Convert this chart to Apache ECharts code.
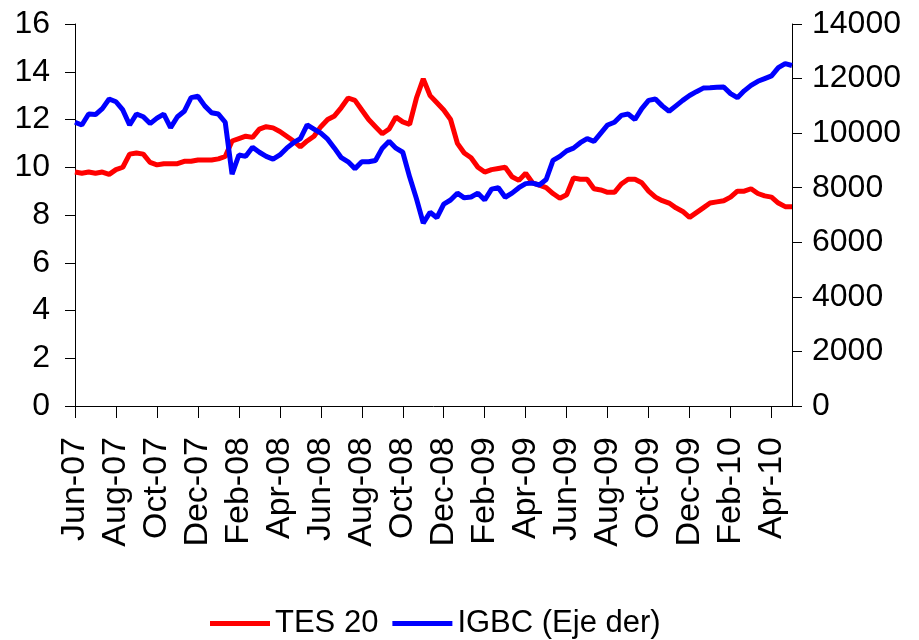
<!DOCTYPE html>
<html>
<head>
<meta charset="utf-8">
<script src="https://cdn.jsdelivr.net/npm/echarts@6/dist/echarts.min.js"></script>
<style>
    html, body { margin: 0; padding: 0; background: #fff; }
    #chart { width: 919px; height: 640px; }
</style>
</head>
<body>
<div id="chart"></div>
<script>
    // fechas: 1, 11 y 21 de cada mes, jun-07 a abr-10, mas el cierre 30-abr-10
    var monthNames = ['Jan', 'Feb', 'Mar', 'Apr', 'May', 'Jun', 'Jul', 'Aug', 'Sep', 'Oct', 'Nov', 'Dec'];
    var dayMarks = [1, 11, 21];
    var dates = [];
    for (var m = 5; m <= 5 + 34; m++) {
        var yy = 2007 + Math.floor(m / 12);
        for (var d = 0; d < dayMarks.length; d++) {
            dates.push(dayMarks[d] + '-' + monthNames[m % 12] + '-' + String(yy).slice(2));
        }
    }
    dates.push('30-Apr-10');

    var tes20 = [
        9.8, 9.75, 9.8, 9.75, 9.8, 9.7, 9.9, 10.0, 10.55, 10.6,
        10.55, 10.2, 10.1, 10.15, 10.15, 10.15, 10.25, 10.25, 10.3, 10.3,
        10.3, 10.35, 10.45, 11.1, 11.2, 11.3, 11.25, 11.6, 11.7, 11.65,
        11.5, 11.3, 11.1, 10.85, 11.1, 11.3, 11.7, 12.0, 12.15, 12.5,
        12.9, 12.8, 12.4, 12.0, 11.7, 11.4, 11.6, 12.1, 11.9, 11.8,
        12.9, 13.7, 13.0, 12.7, 12.4, 12.0, 11.0, 10.6, 10.4, 10.0,
        9.8, 9.9, 9.95, 10.0, 9.6, 9.45, 9.75, 9.35, 9.25, 9.15,
        8.9, 8.7, 8.85, 9.55, 9.5, 9.5, 9.1, 9.05, 8.95, 8.95,
        9.3, 9.5, 9.5, 9.35, 9.0, 8.75, 8.6, 8.5, 8.3, 8.15,
        7.9, 8.1, 8.3, 8.5, 8.55, 8.6, 8.75, 9.0, 9.0, 9.1,
        8.9, 8.8, 8.75, 8.5, 8.35, 8.35
    ];

    var igbc = [
        10400, 10300, 10700, 10680, 10900, 11250, 11150, 10850, 10300, 10700,
        10600, 10350, 10550, 10700, 10200, 10600, 10800, 11300, 11350, 11000,
        10750, 10700, 10400, 8500, 9200, 9150, 9480, 9300, 9150, 9050,
        9200, 9450, 9650, 9800, 10300, 10150, 10000, 9780, 9450, 9100,
        8950, 8700, 8950, 8950, 9000, 9450, 9700, 9450, 9300, 8400,
        7600, 6700, 7100, 6900, 7400, 7550, 7800, 7630, 7660, 7800,
        7550, 7950, 8000, 7650, 7800, 8000, 8150, 8170, 8100, 8300,
        9000, 9150, 9350, 9450, 9650, 9800, 9700, 10000, 10300, 10400,
        10650, 10700, 10500, 10900, 11200, 11250, 11000, 10800, 11000, 11200,
        11380, 11520, 11650, 11660, 11680, 11690, 11450, 11300, 11550, 11750,
        11900, 12000, 12100, 12400, 12550, 12480
    ];

    var chart = echarts.init(document.getElementById('chart'));

    var font = 'Liberation Sans, Arial, sans-serif';

    chart.setOption({
        animation: false,
        backgroundColor: '#fff',
        grid: {
            left: 75,
            right: 127,
            top: 24,
            bottom: 234,
            containLabel: false,
            outerBoundsMode: 'none'
        },
        legend: {
            left: 205,
            top: 603,
            icon: 'rect',
            itemWidth: 60,
            itemHeight: 5,
            itemGap: 14,
            textStyle: { fontFamily: font, fontSize: 31, color: '#000' },
            data: ['TES 20', 'IGBC (Eje der)']
        },
        xAxis: {
            type: 'category',
            data: dates,
            boundaryGap: false,
            axisLine: { lineStyle: { color: '#000', width: 1 } },
            axisTick: { interval: 5, length: 12, lineStyle: { color: '#000' } },
            axisLabel: {
                interval: 5,
                rotate: 90,
                margin: 31,
                fontFamily: font,
                fontSize: 34,
                color: '#000',
                formatter: function (v) {
                    var p = v.split('-');
                    return p[1] + '-' + p[2];
                }
            },
            splitLine: { show: false }
        },
        yAxis: [
            {
                type: 'value',
                min: 0,
                max: 16,
                interval: 2,
                axisLine: { show: true, lineStyle: { color: '#000', width: 1 } },
                axisTick: { show: true, length: 10, lineStyle: { color: '#000' } },
                axisLabel: { margin: 25, fontFamily: font, fontSize: 32, color: '#000' },
                splitLine: { show: false }
            },
            {
                type: 'value',
                min: 0,
                max: 14000,
                interval: 2000,
                position: 'right',
                axisLine: { show: true, lineStyle: { color: '#000', width: 1 } },
                axisTick: { show: true, length: 10, lineStyle: { color: '#000' } },
                axisLabel: {
                    margin: 20,
                    fontFamily: font,
                    fontSize: 32,
                    color: '#000',
                    formatter: function (v) { return String(v); }
                },
                splitLine: { show: false }
            }
        ],
        series: [
            {
                name: 'TES 20',
                type: 'line',
                yAxisIndex: 0,
                data: tes20,
                showSymbol: false,
                symbol: 'none',
                lineStyle: { color: '#ff0000', width: 5 },
                itemStyle: { color: '#ff0000' }
            },
            {
                name: 'IGBC (Eje der)',
                type: 'line',
                yAxisIndex: 1,
                data: igbc,
                showSymbol: false,
                symbol: 'none',
                lineStyle: { color: '#0000ff', width: 5 },
                itemStyle: { color: '#0000ff' }
            }
        ]
    });
</script>
</body>
</html>
